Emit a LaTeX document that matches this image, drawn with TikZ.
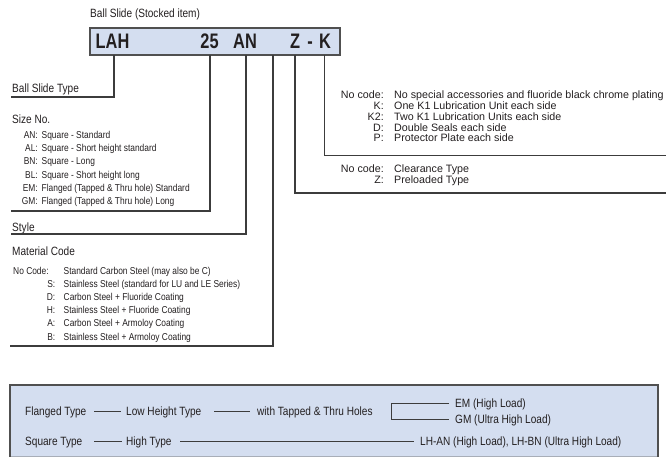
\documentclass[tikz,border=0pt]{standalone}
\usepackage{fontspec}
\setmainfont{Liberation Sans}
\newfontfamily\cond[FakeStretch=0.84]{Liberation Sans}
\newfontfamily\condB[FakeStretch=0.78]{Liberation Sans Bold}
\definecolor{ink}{HTML}{231F20}
\definecolor{linec}{HTML}{3C3C3C}
\definecolor{boxc}{HTML}{D4DEF0}
\definecolor{bordc}{HTML}{505050}
\definecolor{lightb}{HTML}{A8AEB8}
\tikzset{
  big/.style={inner sep=0pt, anchor=base west, text=ink, font=\cond\fontsize{12}{14}\selectfont},
  sml/.style={inner sep=0pt, anchor=base west, text=ink, font=\cond\fontsize{10}{12}\selectfont},
  smlc/.style={sml, anchor=base east},
  rt/.style={inner sep=0pt, anchor=base west, text=ink, font=\fontsize{10.7}{12}\selectfont},
  rtc/.style={rt, anchor=base east},
  code/.style={inner sep=0pt, anchor=base, text=ink, font=\condB\fontsize{21}{24}\selectfont},
  ln/.style={draw=linec, line width=1.1pt},
  thin/.style={draw=linec, line width=0.9pt}
}
\begin{document}
\begin{tikzpicture}[x=1pt,y=-1pt]
\useasboundingbox (0,0) rectangle (666,457);

% ---------- header ----------
\node[big] (title) at (90,18) {Ball Slide (Stocked item)};
\node[draw=bordc, line width=1.6pt, fill=boxc, inner sep=0pt, minimum width=250pt, minimum height=27pt, anchor=north west] (hdr) at (89,27) {};
\node[code] (tLAH) at (112.5,48.3) {LAH};
\node[code] (t25) at (209.5,48.3) {25};
\node[code] (tAN) at (245,48.3) {AN};
\node[code] (tZ) at (295,48.3) {Z};
\node[code] (tD) at (310,48.3) {-};
\node[code] (tK) at (325,48.3) {K};

% ---------- left labels ----------
\node[big] (lType) at (12,92.3) {Ball Slide Type};
\node[big] (lSize) at (12,123.3) {Size No.};
\node[smlc] (sc1) at (38,138.6) {AN:};
\node[smlc] (sc2) at (38,151.8) {AL:};
\node[smlc] (sc3) at (38,165.0) {BN:};
\node[smlc] (sc4) at (38,178.2) {BL:};
\node[smlc] (sc5) at (38,191.4) {EM:};
\node[smlc] (sc6) at (38,204.6) {GM:};
\node[sml] (sd1) at (41.5,138.6) {Square - Standard};
\node[sml] (sd2) at (41.5,151.8) {Square - Short height standard};
\node[sml] (sd3) at (41.5,165.0) {Square - Long};
\node[sml] (sd4) at (41.5,178.2) {Square - Short height long};
\node[sml] (sd5) at (41.5,191.4) {Flanged (Tapped \& Thru hole) Standard};
\node[sml] (sd6) at (41.5,204.6) {Flanged (Tapped \& Thru hole) Long};
\node[big] (lStyle) at (12,231.3) {Style};
\node[big] (lMat) at (12,255.3) {Material Code};
\node[sml] (mc1) at (13,274.1) {No Code:};
\node[smlc] (mc2) at (55.5,287.3) {S:};
\node[smlc] (mc3) at (55.5,300.5) {D:};
\node[smlc] (mc4) at (55.5,313.7) {H:};
\node[smlc] (mc5) at (55.5,326.9) {A:};
\node[smlc] (mc6) at (55.5,340.1) {B:};
\node[sml] (md1) at (63.5,274.1) {Standard Carbon Steel (may also be C)};
\node[sml] (md2) at (63.5,287.3) {Stainless Steel (standard for LU and LE Series)};
\node[sml] (md3) at (63.5,300.5) {Carbon Steel + Fluoride Coating};
\node[sml] (md4) at (63.5,313.7) {Stainless Steel + Fluoride Coating};
\node[sml] (md5) at (63.5,326.9) {Carbon Steel + Armoloy Coating};
\node[sml] (md6) at (63.5,340.1) {Stainless Steel + Armoloy Coating};

% ---------- right labels ----------
\node[rtc] (kc1) at (384,98.8) {No code:};
\node[rtc] (kc2) at (384,109.6) {K:};
\node[rtc] (kc3) at (384,120.4) {K2:};
\node[rtc] (kc4) at (384,131.2) {D:};
\node[rtc] (kc5) at (384,142.0) {P:};
\node[rt] (kd1) at (394,98.8) {No special accessories and fluoride black chrome plating};
\node[rt] (kd2) at (394,109.6) {One K1 Lubrication Unit each side};
\node[rt] (kd3) at (394,120.4) {Two K1 Lubrication Units each side};
\node[rt] (kd4) at (394,131.2) {Double Seals each side};
\node[rt] (kd5) at (394,142.0) {Protector Plate each side};
\node[rtc] (zc1) at (384,172.3) {No code:};
\node[rtc] (zc2) at (384,183.3) {Z:};
\node[rt] (zd1) at (394,172.3) {Clearance Type};
\node[rt] (zd2) at (394,183.3) {Preloaded Type};

% ---------- connectors ----------
\coordinate (aLAH) at (114,54.8);  \coordinate (eLAH) at (11,97);
\coordinate (a25) at (210,54.8);   \coordinate (e25) at (11,211);
\coordinate (aAN) at (246,54.8);   \coordinate (eAN) at (11,234);
\coordinate (aMat) at (273,54.8);  \coordinate (eMat) at (10,346);
\coordinate (aZ) at (295,54.8);    \coordinate (eZ) at (666,193);
\coordinate (aK) at (324.5,54.8);  \coordinate (eK) at (666,155.5);
\draw[ln] (aLAH) |- (eLAH);
\draw[ln] (a25) |- (e25);
\draw[ln] (aAN) |- (eAN);
\draw[ln] (aMat) |- (eMat);
\draw[ln] (aZ) |- (eZ);
\draw[ln] (aK) |- (eK);

% ---------- bottom box ----------
\node[fill=boxc, inner sep=0pt, minimum width=647.5pt, minimum height=71.5pt, anchor=north west] (bot) at (10,385) {};
\draw[draw=lightb, line width=1.2pt] (bot.south west) -- (bot.south east);
\draw[draw=bordc, line width=1.4pt] (bot.south west) -- (bot.north west) -- (bot.north east) -- (bot.south east);

\node[big] (bFl) at (25,415.3) {Flanged Type};
\node[big] (bLow) at (126,415.3) {Low Height Type};
\node[big] (bWith) at (257,415.3) {with Tapped \& Thru Holes};
\node[big] (bEM) at (455,407.3) {EM (High Load)};
\node[big] (bGM) at (455,423.3) {GM (Ultra High Load)};
\node[big] (bSq) at (25,445.3) {Square Type};
\node[big] (bHigh) at (126,445.3) {High Type};
\node[big] (bLH) at (420,445.3) {LH-AN (High Load), LH-BN (Ultra High Load)};

\coordinate (f1a) at (94,411);  \coordinate (f1b) at (121,411);
\coordinate (f2a) at (214,411); \coordinate (f2b) at (250,411);
\coordinate (brT) at (449,403); \coordinate (brB) at (449,419);
\coordinate (brL) at (391.5,403);
\coordinate (s1a) at (94,441);  \coordinate (s1b) at (122,441);
\coordinate (s2a) at (180,441); \coordinate (s2b) at (414,441);
\draw[thin] (f1a) -- (f1b);
\draw[thin] (f2a) -- (f2b);
\draw[thin] (brT) -- (brL) |- (brB);
\draw[thin] (s1a) -- (s1b);
\draw[thin] (s2a) -- (s2b);
\end{tikzpicture}
\end{document}
